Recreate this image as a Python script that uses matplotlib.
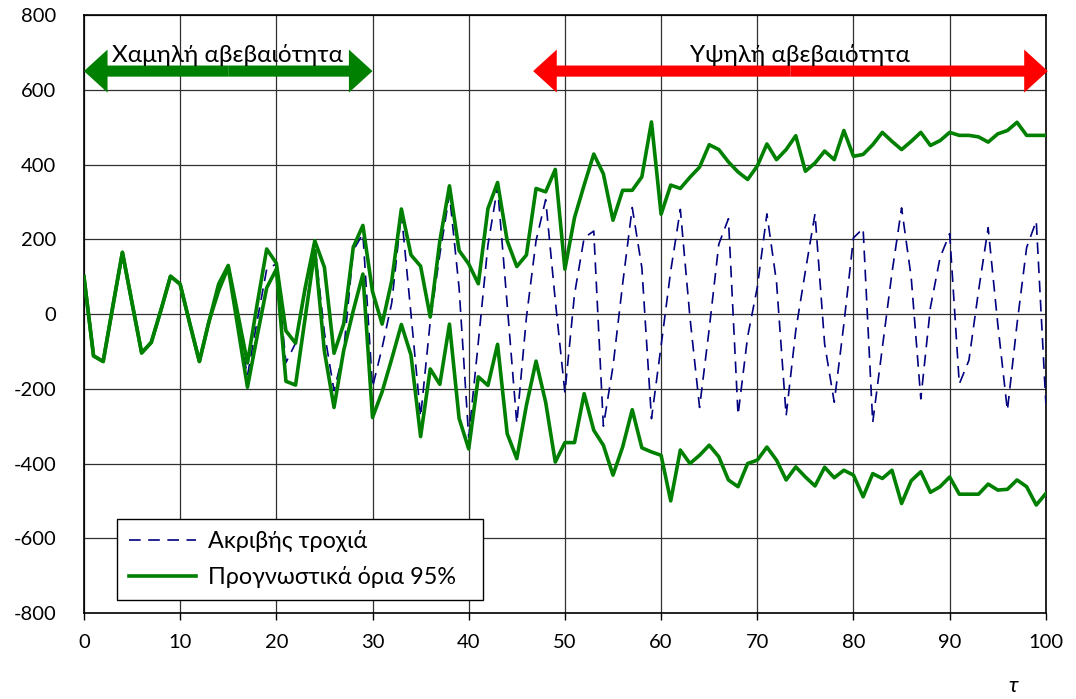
import matplotlib
matplotlib.use('Agg')
import matplotlib.pyplot as plt

# ---------------- data ----------------
t = list(range(0, 101))

exact = [100, -112, -127, 20, 165, 30, -104, -76, 10, 101,
         80, -25, -127, -20, 72, 127, -20, -165, -20, 120,
         134, -130, -78, 60, 185, -50, -205, -100, 170, 215,
         -196, -90, 30, 270, 0, -275, -20, 160, 320, 70,
         -330, -75, 185, 340, 25, -293, -9, 196, 306, 36,
         -210, 53, 204, 222, -300, -140, 80, 285, 124, -280,
         -85, 115, 280, -9, -250, -40, 187, 255, -270, -60,
         71, 268, 85, -272, -44, 115, 268, -80, -236, -27,
         204, 229, -290, -90, 110, 284, 98, -227, 18, 151,
         215, -187, -124, 62, 231, -27, -258, -27, 178, 249,
         -240]

upper = [100, -112, -127, 20, 165, 30, -104, -76, 10, 101,
         80, -25, -127, -20, 80, 130, 0, -131, 25, 174,
         136, -45, -78, 70, 196, 125, -105, -27, 179, 237,
         60, -27, 89, 281, 158, 128, -8, 196, 343, 170,
         134, 81, 282, 352, 196, 127, 158, 336, 327, 387,
         120, 258, 345, 428, 375, 251, 331, 331, 367, 514,
         267, 345, 336, 366, 393, 453, 440, 407, 380, 360,
         396, 455, 413, 440, 477, 382, 404, 436, 413, 491,
         422, 427, 453, 486, 462, 440, 462, 486, 451, 464,
         486, 478, 478, 474, 460, 482, 491, 513, 478, 478,
         478]

lower = [100, -112, -127, 20, 165, 30, -104, -76, 10, 101,
         80, -25, -127, -20, 62, 125, -35, -196, -60, 70,
         120, -180, -190, -10, 170, -100, -250, -98, 9, 107,
         -277, -208, -120, -28, -110, -328, -147, -188, -27, -279,
         -361, -168, -191, -81, -320, -387, -244, -126, -236, -396,
         -344, -344, -213, -311, -351, -431, -356, -256, -358, -369,
         -378, -500, -364, -400, -378, -351, -382, -444, -462, -400,
         -391, -356, -391, -444, -409, -436, -460, -410, -438, -418,
         -431, -489, -427, -440, -418, -507, -446, -422, -477, -462,
         -436, -482, -482, -482, -455, -471, -469, -444, -462, -511,
         -480]

x_ticks = [0, 10, 20, 30, 40, 50, 60, 70, 80, 90, 100]
y_ticks = [-800, -600, -400, -200, 0, 200, 400, 600, 800]

label_exact = "Ακριβής τροχιά"
label_bounds = "Προγνωστικά όρια 95%"
low_text = "Χαμηλή αβεβαιότητα"
high_text = "Υψηλή αβεβαιότητα"
low_span = (0, 30)
high_span = (46.7, 100.2)
arrow_level = 650
text_level = 694

# ---------------- style ----------------
FONT = ['Lato', 'Noto Sans', 'DejaVu Sans']
plt.rcParams['font.family'] = FONT

fig = plt.figure(figsize=(10.76, 6.99), dpi=100)
ax = fig.add_axes([0.078, 0.123, 0.894, 0.8555])

ax.plot(t, exact, color='#000080', lw=1.2, dashes=(7, 4.5), label=label_exact, zorder=3)
ax.plot(t, upper, color='#008000', lw=2.6, label=label_bounds, zorder=4)
ax.plot(t, lower, color='#008000', lw=2.6, zorder=4)

ax.set_xlim(0, 100)
ax.set_ylim(-800, 800)
ax.set_xticks(x_ticks)
ax.set_yticks(y_ticks)
ax.set_xticklabels([str(v) for v in x_ticks], fontsize=14.5)
ax.set_yticklabels([str(v) for v in y_ticks], fontsize=14.5)
ax.tick_params(axis='x', length=5, width=1, direction='out', pad=10, color='black')
ax.tick_params(axis='y', length=0, pad=20)
ax.grid(True, color='#303030', lw=0.9, zorder=0)
for s in ax.spines.values():
    s.set_color('black')
    s.set_linewidth(1.2)

# arrows
def double_arrow(span, color):
    mid = (span[0] + span[1]) / 2.0
    style = 'simple,head_length=17,head_width=31,tail_width=8'
    for end in span:
        ax.annotate('', xy=(end, arrow_level), xytext=(mid, arrow_level),
                    arrowprops=dict(arrowstyle=style, color=color, lw=0,
                                    shrinkA=0, shrinkB=0, mutation_scale=1),
                    annotation_clip=False, zorder=6)

double_arrow(low_span, '#008000')
double_arrow(high_span, '#ff0000')
ax.text(14.9, text_level, low_text, ha='center', va='center',
        fontsize=17.5, zorder=7)
ax.text(74.4, text_level, high_text, ha='center', va='center', fontsize=17.5, zorder=7)

leg = ax.legend(loc='lower left', bbox_to_anchor=(0.0343, 0.0217, 0.3805, 0.137),
                mode='expand', fontsize=16.8,
                frameon=True, fancybox=False, framealpha=1, edgecolor='black',
                handlelength=2.9, borderpad=0.5, labelspacing=0.6, borderaxespad=0,
                handletextpad=0.5)
leg.get_frame().set_linewidth(1.0)
leg.set_zorder(10)

fig.text(0.9415, 0.005, 'τ', fontsize=16, style='italic', ha='center', va='bottom')

fig.savefig('out.png', dpi=100)
